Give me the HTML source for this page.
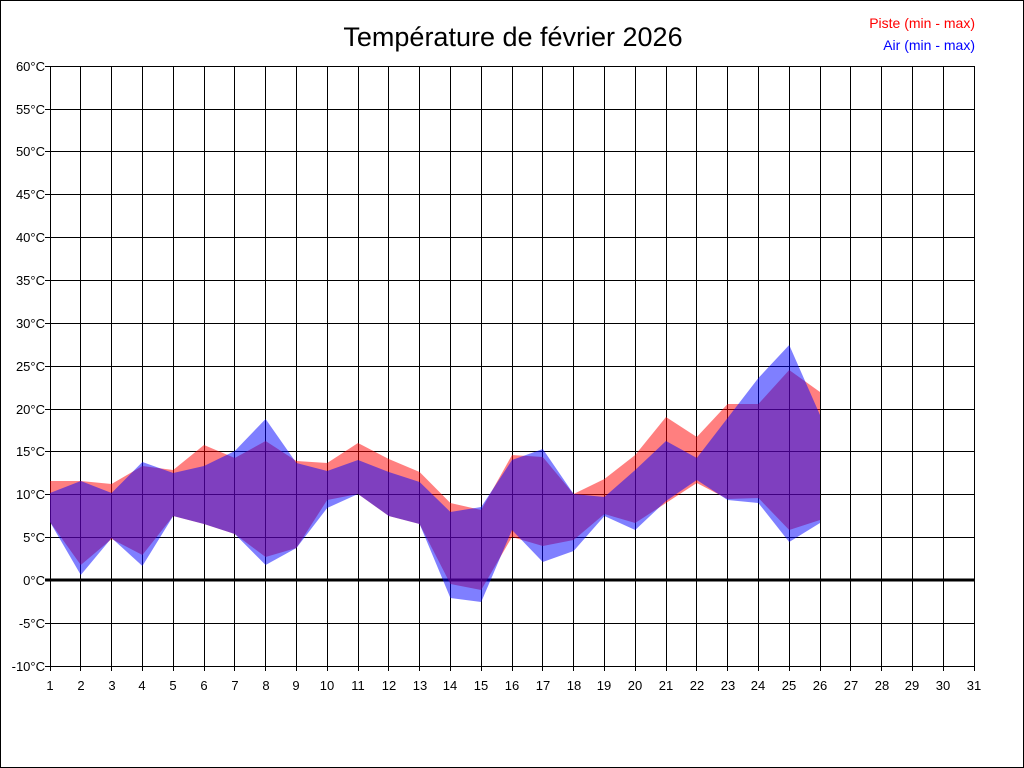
<!DOCTYPE html>
<html><head><meta charset="utf-8"><style>
html,body{margin:0;padding:0;background:#fff}
svg{display:block}
text{font-family:"Liberation Sans",sans-serif}
</style></head><body>
<svg width="1024" height="768" xmlns="http://www.w3.org/2000/svg">
<rect x="0.5" y="0.5" width="1023" height="767" fill="#fff" stroke="#000"/>
<text x="513" y="46" font-size="27" text-anchor="middle">Température de février 2026</text>
<text x="975" y="28" font-size="14" fill="#f00" text-anchor="end">Piste (min - max)</text>
<text x="975" y="50" font-size="14" fill="#00f" text-anchor="end">Air (min - max)</text>
<g stroke="#000" stroke-width="1" shape-rendering="crispEdges">
<line x1="45" y1="66.5" x2="974" y2="66.5"/>
<line x1="45" y1="109.5" x2="974" y2="109.5"/>
<line x1="45" y1="151.5" x2="974" y2="151.5"/>
<line x1="45" y1="194.5" x2="974" y2="194.5"/>
<line x1="45" y1="237.5" x2="974" y2="237.5"/>
<line x1="45" y1="280.5" x2="974" y2="280.5"/>
<line x1="45" y1="323.5" x2="974" y2="323.5"/>
<line x1="45" y1="366.5" x2="974" y2="366.5"/>
<line x1="45" y1="409.5" x2="974" y2="409.5"/>
<line x1="45" y1="451.5" x2="974" y2="451.5"/>
<line x1="45" y1="494.5" x2="974" y2="494.5"/>
<line x1="45" y1="537.5" x2="974" y2="537.5"/>
<line x1="45" y1="623.5" x2="974" y2="623.5"/>
<line x1="45" y1="666.5" x2="974" y2="666.5"/>
<line x1="50.5" y1="66" x2="50.5" y2="671"/>
<line x1="80.5" y1="66" x2="80.5" y2="671"/>
<line x1="111.5" y1="66" x2="111.5" y2="671"/>
<line x1="142.5" y1="66" x2="142.5" y2="671"/>
<line x1="173.5" y1="66" x2="173.5" y2="671"/>
<line x1="204.5" y1="66" x2="204.5" y2="671"/>
<line x1="234.5" y1="66" x2="234.5" y2="671"/>
<line x1="265.5" y1="66" x2="265.5" y2="671"/>
<line x1="296.5" y1="66" x2="296.5" y2="671"/>
<line x1="327.5" y1="66" x2="327.5" y2="671"/>
<line x1="358.5" y1="66" x2="358.5" y2="671"/>
<line x1="388.5" y1="66" x2="388.5" y2="671"/>
<line x1="419.5" y1="66" x2="419.5" y2="671"/>
<line x1="450.5" y1="66" x2="450.5" y2="671"/>
<line x1="481.5" y1="66" x2="481.5" y2="671"/>
<line x1="512.5" y1="66" x2="512.5" y2="671"/>
<line x1="542.5" y1="66" x2="542.5" y2="671"/>
<line x1="573.5" y1="66" x2="573.5" y2="671"/>
<line x1="604.5" y1="66" x2="604.5" y2="671"/>
<line x1="635.5" y1="66" x2="635.5" y2="671"/>
<line x1="666.5" y1="66" x2="666.5" y2="671"/>
<line x1="696.5" y1="66" x2="696.5" y2="671"/>
<line x1="727.5" y1="66" x2="727.5" y2="671"/>
<line x1="758.5" y1="66" x2="758.5" y2="671"/>
<line x1="789.5" y1="66" x2="789.5" y2="671"/>
<line x1="820.5" y1="66" x2="820.5" y2="671"/>
<line x1="850.5" y1="66" x2="850.5" y2="671"/>
<line x1="881.5" y1="66" x2="881.5" y2="671"/>
<line x1="912.5" y1="66" x2="912.5" y2="671"/>
<line x1="943.5" y1="66" x2="943.5" y2="671"/>
<line x1="974.5" y1="66" x2="974.5" y2="671"/>
</g>
<line x1="45" y1="580" x2="974" y2="580" stroke="#000" stroke-width="3"/>
<polygon fill="#ff0000" fill-opacity="0.5" points="50,481 80.8,481 111.6,484 142.4,466 173.2,470 204,445 234.8,458 265.6,441 296.4,461 327.2,463 358,443 388.8,459 419.6,472 450.4,503 481.2,510 512,455 542.8,457 573.6,494 604.4,479 635.2,455 666,417 696.8,437 727.6,404 758.4,404 789.2,370 820,392 820,520 789.2,530 758.4,498 727.6,499 696.8,483 666,503 635.2,523 604.4,514 573.6,540 542.8,546 512,537 481.2,590 450.4,584 419.6,524 388.8,516 358,494 327.2,500 296.4,548 265.6,557 234.8,534 204,524 173.2,516 142.4,555 111.6,539 80.8,565 50,522"/>
<polygon fill="#0000ff" fill-opacity="0.5" points="50,493 80.8,481 111.6,493 142.4,462 173.2,473 204,466 234.8,451 265.6,419 296.4,463 327.2,471 358,460 388.8,472 419.6,482 450.4,512 481.2,507 512,460 542.8,449 573.6,494 604.4,497 635.2,470 666,441 696.8,458 727.6,418 758.4,378 789.2,345 820,415 820,523 789.2,542 758.4,503 727.6,500 696.8,480 666,501 635.2,530 604.4,516 573.6,551 542.8,562 512,530 481.2,602 450.4,598 419.6,524 388.8,516 358,494 327.2,508 296.4,548 265.6,565 234.8,534 204,524 173.2,516 142.4,566 111.6,538 80.8,575 50,522"/>
<g font-size="13" text-anchor="end" fill="#000">
<text x="45" y="71">60°C</text><text x="45" y="114">55°C</text><text x="45" y="156">50°C</text><text x="45" y="199">45°C</text><text x="45" y="242">40°C</text><text x="45" y="285">35°C</text><text x="45" y="328">30°C</text><text x="45" y="371">25°C</text><text x="45" y="414">20°C</text><text x="45" y="456">15°C</text><text x="45" y="499">10°C</text><text x="45" y="542">5°C</text><text x="45" y="585">0°C</text><text x="45" y="628">-5°C</text><text x="45" y="671">-10°C</text>
</g>
<g font-size="13" text-anchor="middle" fill="#000">
<text x="50" y="690">1</text><text x="81" y="690">2</text><text x="112" y="690">3</text><text x="142" y="690">4</text><text x="173" y="690">5</text><text x="204" y="690">6</text><text x="235" y="690">7</text><text x="266" y="690">8</text><text x="296" y="690">9</text><text x="327" y="690">10</text><text x="358" y="690">11</text><text x="389" y="690">12</text><text x="420" y="690">13</text><text x="450" y="690">14</text><text x="481" y="690">15</text><text x="512" y="690">16</text><text x="543" y="690">17</text><text x="574" y="690">18</text><text x="604" y="690">19</text><text x="635" y="690">20</text><text x="666" y="690">21</text><text x="697" y="690">22</text><text x="728" y="690">23</text><text x="758" y="690">24</text><text x="789" y="690">25</text><text x="820" y="690">26</text><text x="851" y="690">27</text><text x="882" y="690">28</text><text x="912" y="690">29</text><text x="943" y="690">30</text><text x="974" y="690">31</text>
</g>
</svg>
</body></html>
